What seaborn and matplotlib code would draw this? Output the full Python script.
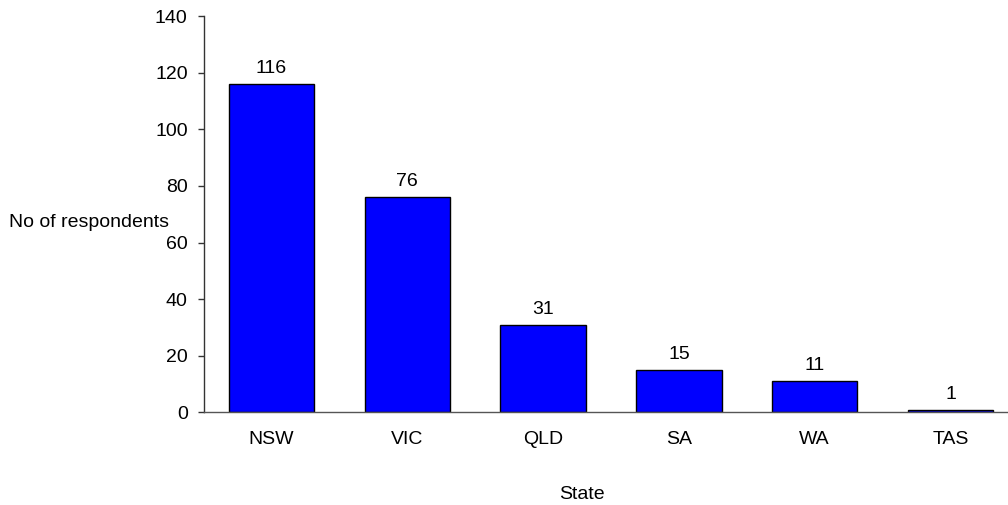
import matplotlib
matplotlib.use("Agg")
import matplotlib.pyplot as plt
import seaborn as sns
import pandas as pd

states = ["NSW", "VIC", "QLD", "SA", "WA", "TAS"]
respondents = [116, 76, 31, 15, 11, 1]
y_ticks = [0, 20, 40, 60, 80, 100, 120, 140]

sns.set_style("white")
plt.rcParams["font.family"] = ["Liberation Sans", "DejaVu Sans"]
plt.rcParams["text.color"] = "black"
plt.rcParams["axes.labelcolor"] = "black"
plt.rcParams["xtick.color"] = "black"
plt.rcParams["ytick.color"] = "black"

df = pd.DataFrame({"State": states, "No of respondents": respondents})

fig = plt.figure(figsize=(10.08, 5.05), dpi=100)
ax = fig.add_axes([0.202, 0.1832, 0.8083, 0.785])

sns.barplot(data=df, x="State", y="No of respondents", color="#0000FF",
            saturation=1, width=0.63, edgecolor="black", linewidth=1, ax=ax)

ax.bar_label(ax.containers[0], labels=[str(v) for v in respondents],
             padding=5, fontsize=14, color="black")

ax.set_xlim(-0.5, 5.5)
ax.set_ylim(0, 140)
ax.set_yticks(y_ticks)

sns.despine(ax=ax, top=True, right=True)
ax.spines["left"].set_color("#333333")
ax.spines["bottom"].set_color("#555555")
ax.spines["left"].set_linewidth(1)
ax.spines["bottom"].set_linewidth(1)

ax.tick_params(axis="y", length=4.5, width=1, color="#333333", pad=7,
               labelsize=14, left=True, labelcolor="black")
ax.tick_params(axis="x", length=0, pad=13, labelsize=14, labelcolor="black")

ax.set_xlabel("State", fontsize=14)
ax.xaxis.set_label_coords(0.464, -0.185)
ax.set_ylabel("No of respondents", fontsize=14, rotation=0,
              ha="center", va="center")
ax.yaxis.set_label_coords(-0.141, 0.48)

fig.savefig("out.png", dpi=100)
